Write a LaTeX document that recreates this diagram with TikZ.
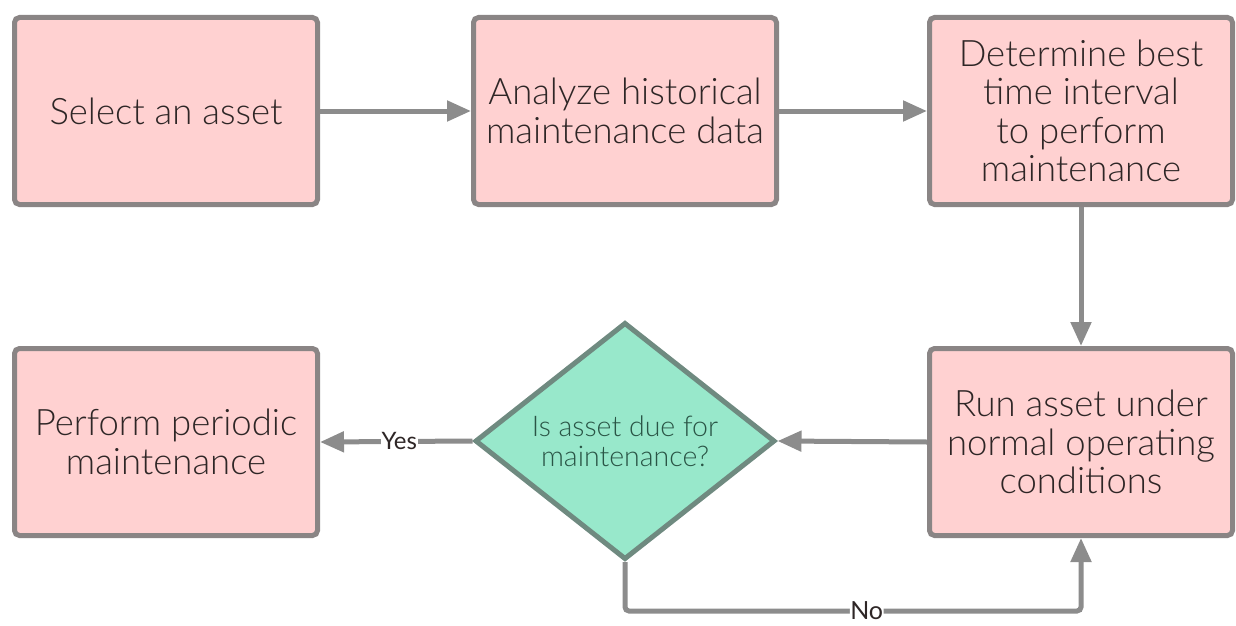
\documentclass[tikz,border=0pt]{standalone}
\usepackage{fontspec}
\setmainfont{Lato}[UprightFont={* Light}]
\newfontfamily\tagfont{Lato}
\usetikzlibrary{shapes.geometric,arrows.meta}
\definecolor{boxfill}{HTML}{FFD1D1}
\definecolor{boxline}{HTML}{8A8585}
\definecolor{decfill}{HTML}{98E8CB}
\definecolor{decline}{HTML}{6F8A80}
\definecolor{wire}{HTML}{8C8C8C}
\definecolor{boxtext}{HTML}{2E2626}
\definecolor{dectext}{HTML}{2A5546}
\tikzset{
  stepbox/.style={draw=boxline, fill=boxfill, line width=5pt, rounded corners=5pt,
    minimum width=303pt, minimum height=187pt, inner sep=0pt, align=center,
    text=boxtext, font=\fontsize{36.5}{38.5}\selectfont},
  decision/.style={diamond, draw=decline, fill=decfill, line width=5pt,
    minimum width=300pt, minimum height=233pt, inner sep=0pt, align=center,
    text=dectext, font=\fontsize{28.5}{30}\selectfont},
  flow/.style={draw=wire, line width=5pt, -{Triangle[length=24pt,width=20pt]}},
  tag/.style={fill=white, inner sep=1pt, text=boxtext}
}
\begin{document}
\begin{tikzpicture}[x=1pt,y=-1pt]
\useasboundingbox (0,0) rectangle (1236,626);
\node[stepbox] (sel) at (166,111) {Select an asset};
\node[stepbox] (ana) at (625,111) {Analyze historical\\maintenance data};
\node[stepbox] (det) at (1081,111) {Determine best\\time interval\\to perform\\maintenance};
\node[stepbox] (run) at (1081,442) {Run asset under\\normal operating\\conditions};
\node[decision] (due) at (625,441) {Is asset due for\\maintenance?};
\node[stepbox] (per) at (166,442) {Perform periodic\\maintenance};
\coordinate (nocorner) at (625,611);
\coordinate (noend) at (1081,611);

\draw[flow] (sel) -- (ana);
\draw[flow] (ana) -- (det);
\draw[flow] (det) -- (run);
\draw[flow] (run.west) -- (due.east);
\draw[flow] (due.west) -- node[tag, pos=0.48, font=\tagfont\fontsize{24}{28}\selectfont]{Yes} (per.east);
\draw[flow, rounded corners=4pt] (due.south) -- (nocorner) -- node[tag, pos=0.53, inner sep=0.5pt, font=\tagfont\fontsize{25}{28}\selectfont]{No} (noend) -- (run.south);
\end{tikzpicture}
\end{document}
